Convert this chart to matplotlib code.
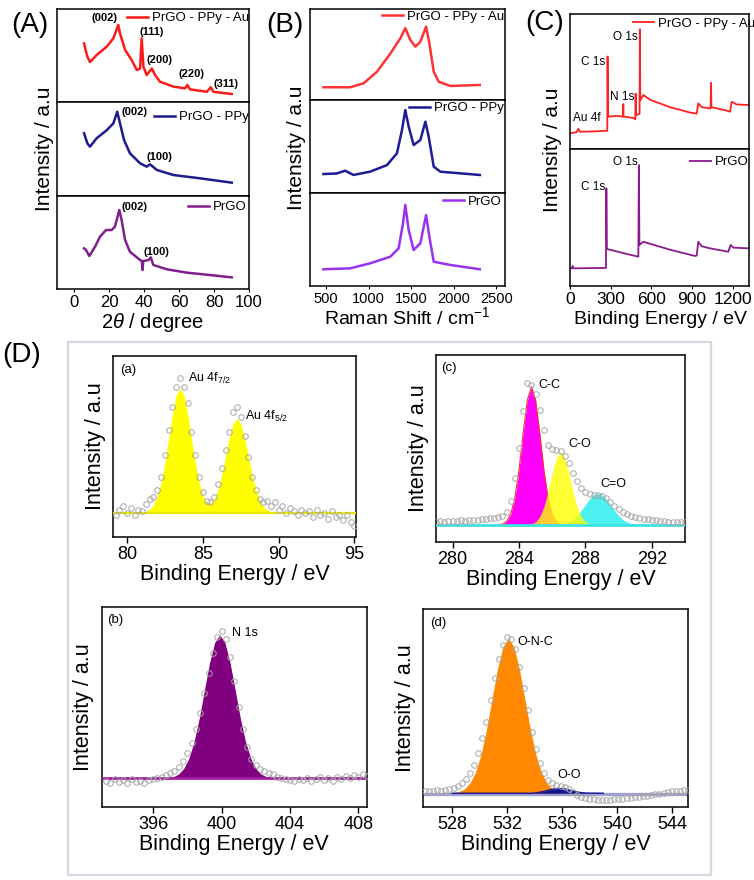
import matplotlib
matplotlib.use("Agg")
import matplotlib.pyplot as plt
from matplotlib.patches import Rectangle

plt.rcParams['font.family'] = ['Liberation Sans', 'DejaVu Sans']
plt.rcParams['mathtext.fontset'] = 'custom'
plt.rcParams['mathtext.rm'] = 'Liberation Sans'
plt.rcParams['mathtext.it'] = 'Liberation Sans:italic'
plt.rcParams['mathtext.bf'] = 'Liberation Sans:bold'
plt.rcParams['axes.linewidth'] = 1.1

W, H = 754, 880

# (A) XRD, intensities normalised to each stacked panel
XRD_AU_X = [5.5, 7.4, 8.9, 12.7, 18.5, 22.3, 25.1, 26.1, 29.0, 32.8, 35.7, 37.6, 38.5, 39.5,
            41.4, 44.3, 46.2, 49.0, 56.7, 63.4, 64.7, 66.2, 75.8, 78.1, 79.6, 90.1]
XRD_AU_Y = [0.63, 0.487, 0.43, 0.505, 0.595, 0.685, 0.828, 0.738, 0.56, 0.45, 0.344, 0.36, 0.685, 0.38,
            0.29, 0.36, 0.29, 0.218, 0.165, 0.147, 0.183, 0.136, 0.11, 0.158, 0.11, 0.086]
XRD_PPY_X = [5.5, 7.4, 8.9, 12.7, 18.5, 22.3, 24.5, 26.1, 28.4, 31.8, 37.6, 41.4, 43.3, 47.2, 56.7, 72.0, 90.1]
XRD_PPY_Y = [0.667, 0.56, 0.525, 0.614, 0.70, 0.773, 0.897, 0.773, 0.596, 0.454, 0.348, 0.312, 0.337,
             0.277, 0.223, 0.188, 0.142]
XRD_GO_X = [5.5, 6.6, 8.5, 11.8, 14.6, 18.1, 21.3, 23.2, 25.7, 27.0, 29.0, 31.8, 37.6, 38.7, 39.0, 39.4,
            42.4, 43.7, 45.2, 52.9, 64.3, 77.7, 90.1]
XRD_GO_Y = [0.437, 0.42, 0.355, 0.455, 0.562, 0.634, 0.634, 0.67, 0.85, 0.742, 0.527, 0.40, 0.312, 0.30,
            0.204, 0.30, 0.312, 0.34, 0.258, 0.212, 0.176, 0.15, 0.125]
XRD_AU_LABELS = ["(002)", "(111)", "(200)", "(220)", "(311)"]
XRD_AU_LABEL_X = [17.5, 44.3, 48.6, 67.2, 86.8]
XRD_AU_LABEL_Y = [0.90, 0.75, 0.45, 0.30, 0.19]
XRD_PPY_LABELS = ["(002)", "(100)"]
XRD_PPY_LABEL_X = [34.3, 48.6]
XRD_PPY_LABEL_Y = [0.897, 0.418]
XRD_GO_LABELS = ["(002)", "(100)"]
XRD_GO_LABEL_X = [34.3, 47.2]
XRD_GO_LABEL_Y = [0.885, 0.40]

# (B) Raman
RAMAN_AU_X = [468, 782, 939, 1096, 1253, 1371, 1429, 1488, 1547, 1606, 1673, 1712, 1763, 1822, 1959, 2304]
RAMAN_AU_Y = [0.14, 0.14, 0.183, 0.31, 0.51, 0.678, 0.79, 0.66, 0.586, 0.64, 0.806, 0.623, 0.31, 0.20,
              0.154, 0.165]
RAMAN_PPY_X = [468, 624, 722, 821, 1017, 1214, 1331, 1390, 1429, 1469, 1527, 1606, 1665, 1704, 1763, 1841, 2304]
RAMAN_PPY_Y = [0.204, 0.21, 0.24, 0.194, 0.23, 0.30, 0.427, 0.677, 0.892, 0.713, 0.516, 0.57, 0.767, 0.605,
               0.283, 0.229, 0.194]
RAMAN_GO_X = [468, 782, 1017, 1253, 1351, 1402, 1429, 1469, 1527, 1606, 1673, 1712, 1763, 1959, 2304]
RAMAN_GO_Y = [0.18, 0.19, 0.244, 0.315, 0.405, 0.674, 0.871, 0.602, 0.387, 0.459, 0.763, 0.53, 0.261,
              0.226, 0.18]

# (C) XPS survey
SURVEY_AU_X = [0, 49, 61, 74, 172, 275, 277, 280, 344, 391, 393, 395, 467, 482, 484, 486, 513, 515, 518,
               541, 590, 737, 885, 934, 946, 971, 1037, 1040, 1043, 1155, 1180, 1192, 1229, 1315]
SURVEY_AU_Y = [0.116, 0.125, 0.15, 0.128, 0.13, 0.135, 0.685, 0.24, 0.245, 0.24, 0.333, 0.24, 0.23, 0.22,
               0.41, 0.25, 0.26, 0.886, 0.36, 0.40, 0.365, 0.31, 0.27, 0.262, 0.338, 0.31, 0.30, 0.49,
               0.31, 0.285, 0.276, 0.35, 0.33, 0.326]
SURVEY_GO_X = [7, 15, 20, 25, 37, 265, 268, 272, 295, 393, 504, 508, 512, 541, 737, 922, 934, 946, 971,
               1032, 1167, 1185, 1204, 1315]
SURVEY_GO_Y = [0.129, 0.129, 0.146, 0.129, 0.129, 0.132, 0.713, 0.27, 0.265, 0.24, 0.214, 0.883, 0.30,
               0.323, 0.265, 0.219, 0.222, 0.323, 0.29, 0.275, 0.25, 0.30, 0.28, 0.275]
SURVEY_AU_LABELS = ["Au 4f", "C 1s", "N 1s", "O 1s"]
SURVEY_AU_LABEL_X = [125, 170, 383, 405]
SURVEY_AU_LABEL_Y = [0.23, 0.644, 0.385, 0.83]
SURVEY_GO_LABELS = ["C 1s", "O 1s"]
SURVEY_GO_LABEL_X = [170, 405]
SURVEY_GO_LABEL_Y = [0.723, 0.905]

# (D-a) Au 4f
AU4F_X = [79.25, 79.5, 79.75, 80.0, 80.25, 80.5, 80.75, 81.0, 81.25, 81.5, 81.75, 82.0, 82.25, 82.5,
          82.75, 83.0, 83.25, 83.5, 83.75, 84.0, 84.25, 84.5, 84.75, 85.0, 85.25, 85.5, 85.75, 86.0,
          86.25, 86.5, 86.75, 87.0, 87.25, 87.5, 87.75, 88.0, 88.25, 88.5, 88.75, 89.0, 89.25, 89.5,
          89.75, 90.0, 90.25, 90.5, 90.75, 91.0, 91.25, 91.5, 91.75, 92.0, 92.25, 92.5, 92.75, 93.0,
          93.25, 93.5, 93.75, 94.0, 94.25, 94.5, 94.75, 95.0]
AU4F_Y = [0.12, 0.15, 0.17, 0.13, 0.16, 0.12, 0.15, 0.14, 0.18, 0.21, 0.22, 0.26, 0.33, 0.45,
          0.59, 0.72, 0.83, 0.88, 0.83, 0.74, 0.58, 0.45, 0.33, 0.25, 0.20, 0.19, 0.22, 0.29,
          0.38, 0.48, 0.58, 0.69, 0.72, 0.66, 0.56, 0.44, 0.33, 0.26, 0.21, 0.19, 0.20, 0.17,
          0.19, 0.15, 0.17, 0.13, 0.16, 0.14, 0.12, 0.15, 0.13, 0.14, 0.11, 0.15, 0.12, 0.13,
          0.10, 0.14, 0.11, 0.12, 0.09, 0.12, 0.08, 0.06]
AU4F_FIT_X = [80.75, 81.0, 81.25, 81.5, 81.75, 82.0, 82.25, 82.5, 82.75, 83.0, 83.25, 83.5, 83.75,
              84.0, 84.25, 84.5, 84.75, 85.0, 85.25, 85.5, 85.75, 86.0, 86.25, 86.5, 86.75, 87.0,
              87.25, 87.5, 87.75, 88.0, 88.25, 88.5, 88.75, 89.0, 89.25, 89.5, 89.75, 90.0]
AU4F_FIT_Y = [0.133, 0.135, 0.140, 0.151, 0.176, 0.222, 0.300, 0.411, 0.546, 0.681, 0.783, 0.821, 0.783,
              0.681, 0.546, 0.412, 0.302, 0.227, 0.190, 0.184, 0.208, 0.262, 0.344, 0.447, 0.549, 0.626,
              0.655, 0.626, 0.549, 0.447, 0.344, 0.262, 0.201, 0.166, 0.147, 0.138, 0.135, 0.133]
AU4F_BASE = 0.133

# (D-b) N 1s
N1S_X = [393.25, 393.5, 393.75, 394.0, 394.25, 394.5, 394.75, 395.0, 395.25, 395.5, 395.75, 396.0,
         396.25, 396.5, 396.75, 397.0, 397.25, 397.5, 397.75, 398.0, 398.25, 398.5, 398.75, 399.0,
         399.25, 399.5, 399.75, 400.0, 400.25, 400.5, 400.75, 401.0, 401.25, 401.5, 401.75, 402.0,
         402.25, 402.5, 402.75, 403.0, 403.25, 403.5, 403.75, 404.0, 404.25, 404.5, 404.75, 405.0,
         405.25, 405.5, 405.75, 406.0, 406.25, 406.5, 406.75, 407.0, 407.25, 407.5, 407.75, 408.0,
         408.25, 408.5]
N1S_Y = [0.13, 0.12, 0.14, 0.125, 0.135, 0.12, 0.14, 0.125, 0.13, 0.12, 0.135, 0.14,
         0.145, 0.15, 0.16, 0.17, 0.18, 0.20, 0.23, 0.27, 0.32, 0.39, 0.47, 0.57,
         0.67, 0.77, 0.85, 0.88, 0.84, 0.75, 0.63, 0.50, 0.39, 0.30, 0.24, 0.21,
         0.19, 0.18, 0.17, 0.165, 0.15, 0.145, 0.14, 0.135, 0.13, 0.14, 0.135, 0.145,
         0.13, 0.14, 0.15, 0.135, 0.145, 0.13, 0.15, 0.14, 0.155, 0.145, 0.16, 0.15,
         0.165, 0.155]
N1S_FIT_X = [396.6, 396.9, 397.2, 397.5, 397.8, 398.1, 398.4, 398.7, 399.0, 399.3, 399.6, 399.9,
             400.2, 400.5, 400.8, 401.1, 401.4, 401.7, 402.0, 402.3, 402.6, 402.9, 403.2]
N1S_FIT_Y = [0.142, 0.145, 0.151, 0.164, 0.192, 0.243, 0.326, 0.442, 0.582, 0.719, 0.821, 0.859,
             0.821, 0.719, 0.582, 0.442, 0.326, 0.243, 0.192, 0.164, 0.151, 0.145, 0.142]
N1S_BASE = 0.142

# (D-c) C 1s
C1S_X = [279.0, 279.25, 279.5, 279.75, 280.0, 280.25, 280.5, 280.75, 281.0, 281.25, 281.5, 281.75,
         282.0, 282.25, 282.5, 282.75, 283.0, 283.25, 283.5, 283.75, 284.0, 284.25, 284.5, 284.75,
         285.0, 285.25, 285.5, 285.75, 286.0, 286.25, 286.5, 286.75, 287.0, 287.25, 287.5, 287.75,
         288.0, 288.25, 288.5, 288.75, 289.0, 289.25, 289.5, 289.75, 290.0, 290.25, 290.5, 290.75,
         291.0, 291.25, 291.5, 291.75, 292.0, 292.25, 292.5, 292.75, 293.0, 293.25, 293.5, 293.75,
         294.0]
C1S_Y = [0.105, 0.11, 0.108, 0.112, 0.11, 0.112, 0.115, 0.113, 0.117, 0.116, 0.118, 0.12,
         0.122, 0.125, 0.128, 0.13, 0.14, 0.16, 0.22, 0.34, 0.50, 0.70, 0.85, 0.84,
         0.79, 0.705, 0.60, 0.52, 0.495, 0.49, 0.488, 0.46, 0.42, 0.37, 0.325, 0.285,
         0.265, 0.255, 0.252, 0.25, 0.246, 0.235, 0.212, 0.19, 0.175, 0.16, 0.148, 0.14,
         0.133, 0.128, 0.124, 0.12, 0.118, 0.115, 0.113, 0.11, 0.108, 0.106, 0.105, 0.104,
         0.103]
CC_X = [282.75, 283.0, 283.25, 283.5, 283.75, 284.0, 284.25, 284.5, 284.75, 285.0, 285.25, 285.5,
        285.75, 286.0, 286.25, 286.5, 286.75]
CC_Y = [0.090, 0.094, 0.108, 0.146, 0.233, 0.384, 0.581, 0.758, 0.830, 0.758, 0.581, 0.384,
        0.233, 0.146, 0.108, 0.094, 0.090]
CO_X = [284.5, 284.75, 285.0, 285.25, 285.5, 285.75, 286.0, 286.25, 286.5, 286.75, 287.0, 287.25,
        287.5, 287.75, 288.0, 288.25, 288.5]
CO_Y = [0.090, 0.095, 0.106, 0.134, 0.187, 0.269, 0.367, 0.449, 0.482, 0.449, 0.367, 0.269,
        0.187, 0.134, 0.106, 0.095, 0.090]
CEO_X = [286.25, 286.5, 286.75, 287.0, 287.25, 287.5, 287.75, 288.0, 288.25, 288.5, 288.75, 289.0,
         289.25, 289.5, 289.75, 290.0, 290.25, 290.5, 290.75, 291.0, 291.25]
CEO_Y = [0.090, 0.093, 0.097, 0.105, 0.119, 0.140, 0.168, 0.199, 0.229, 0.251, 0.259, 0.251,
         0.229, 0.199, 0.168, 0.140, 0.119, 0.105, 0.097, 0.093, 0.090]
C1S_BASE = 0.089

# (D-d) O 1s
O1S_X = [526.0, 526.3, 526.6, 526.9, 527.2, 527.5, 527.8, 528.1, 528.4, 528.7, 529.0, 529.3, 529.6,
         529.9, 530.2, 530.5, 530.8, 531.1, 531.4, 531.7, 532.0, 532.3, 532.6, 532.9, 533.2, 533.5,
         533.8, 534.1, 534.4, 534.7, 535.0, 535.3, 535.6, 535.9, 536.2, 536.5, 536.8, 537.1, 537.4,
         537.7, 538.0, 538.3, 538.6, 538.9, 539.2, 539.5, 539.8, 540.1, 540.4, 540.7, 541.0, 541.3,
         541.6, 541.9, 542.2, 542.5, 542.8, 543.1, 543.4, 543.7, 544.0, 544.3, 544.6, 544.9, 545.2]
O1S_Y = [0.08, 0.082, 0.08, 0.083, 0.082, 0.085, 0.088, 0.095, 0.105, 0.12, 0.14, 0.17, 0.21,
         0.27, 0.35, 0.43, 0.54, 0.65, 0.75, 0.82, 0.86, 0.85, 0.80, 0.71, 0.60, 0.49,
         0.38, 0.29, 0.22, 0.17, 0.135, 0.12, 0.11, 0.105, 0.10, 0.09, 0.075, 0.06, 0.05,
         0.045, 0.04, 0.038, 0.036, 0.035, 0.036, 0.035, 0.037, 0.038, 0.04, 0.042, 0.045, 0.047,
         0.05, 0.052, 0.055, 0.058, 0.062, 0.066, 0.07, 0.075, 0.078, 0.08, 0.082, 0.083, 0.085]
ONC_X = [527.7, 528.1, 528.5, 528.9, 529.3, 529.7, 530.1, 530.5, 530.9, 531.3, 531.7, 532.1, 532.5,
         532.9, 533.3, 533.7, 534.1, 534.5, 534.9, 535.3, 535.7, 536.1, 536.5]
ONC_Y = [0.068, 0.071, 0.077, 0.090, 0.120, 0.174, 0.263, 0.391, 0.544, 0.697, 0.811, 0.853, 0.811,
         0.697, 0.544, 0.391, 0.263, 0.174, 0.120, 0.090, 0.077, 0.071, 0.068]
OO_X = [528.0, 533.8, 534.2, 534.6, 535.0, 535.4, 535.8, 536.2, 536.6, 537.0, 537.4, 537.8, 539.0]
OO_Y = [0.068, 0.068, 0.071, 0.076, 0.083, 0.090, 0.093, 0.090, 0.083, 0.076, 0.071, 0.069, 0.068]
O1S_BASE = 0.068


def box(l, t, r, b):
    return [l / W, 1 - b / H, (r - l) / W, (b - t) / H]


def fx(x):
    return x / W


def fy(y):
    return 1 - y / H


fig = plt.figure(figsize=(W / 100, H / 100), dpi=100)


def stack(l, r, edges, xlim, xticks, fs):
    axs = []
    for i in range(len(edges) - 1):
        ax = fig.add_axes(box(l, edges[i], r, edges[i + 1]))
        ax.set_xlim(xlim)
        ax.set_ylim(0, 1)
        ax.set_yticks([])
        ax.set_xticks(xticks)
        ax.tick_params(axis='x', direction='out', length=2, width=0.8, labelsize=fs, pad=2)
        if i < len(edges) - 2:
            ax.tick_params(axis='x', bottom=False, labelbottom=False)
        axs.append(ax)
    return axs


def tag(ax, line, label, x, y):
    ax.legend([line], [label], loc='center left', bbox_to_anchor=(x, y), frameon=False,
              fontsize=9.5, handlelength=1.6, handletextpad=0.3, borderpad=0, borderaxespad=0)


# ---------------- (A) ----------------
axA = stack(57, 249, [9, 102, 196, 289], (-10, 100), [0, 20, 40, 60, 80, 100], 12)
series = [(XRD_AU_X, XRD_AU_Y, '#ff1a1a', 'PrGO - PPy - Au', 0.365, 0.903,
           XRD_AU_LABELS, XRD_AU_LABEL_X, XRD_AU_LABEL_Y),
          (XRD_PPY_X, XRD_PPY_Y, '#1c1c8c', 'PrGO - PPy', 0.505, 0.84,
           XRD_PPY_LABELS, XRD_PPY_LABEL_X, XRD_PPY_LABEL_Y),
          (XRD_GO_X, XRD_GO_Y, '#801f8c', 'PrGO', 0.682, 0.88,
           XRD_GO_LABELS, XRD_GO_LABEL_X, XRD_GO_LABEL_Y)]
for ax, (xs, ys, c, name, lx, ly, labs, labx, laby) in zip(axA, series):
    ln, = ax.plot(xs, ys, color=c, lw=1.8)
    tag(ax, ln, name, lx, ly)
    for t, tx, ty in zip(labs, labx, laby):
        ax.text(tx, ty, t, fontsize=8, fontweight='bold', ha='center', va='center')
fig.text(fx(152), fy(322), r"2$\theta$ / degree", fontsize=14.5, ha='center', va='center')
fig.text(fx(44), fy(149), "Intensity / a.u", fontsize=15, rotation=90, ha='center', va='center')
fig.text(fx(30), fy(25), "(A)", fontsize=20, ha='center', va='center')

# ---------------- (B) ----------------
axB = stack(310, 505, [9, 100, 193, 286], (310, 2600), [500, 1000, 1500, 2000, 2500], 10.5)
series = [(RAMAN_AU_X, RAMAN_AU_Y, '#ff3333', 'PrGO - PPy - Au', 0.368, 0.915),
          (RAMAN_PPY_X, RAMAN_PPY_Y, '#1c1c96', 'PrGO - PPy', 0.508, 0.91),
          (RAMAN_GO_X, RAMAN_GO_Y, '#9a30f0', 'PrGO', 0.682, 0.906)]
for ax, (xs, ys, c, name, lx, ly) in zip(axB, series):
    ln, = ax.plot(xs, ys, color=c, lw=1.8)
    tag(ax, ln, name, lx, ly)
fig.text(fx(407), fy(317), "Raman Shift / cm$^{-1}$", fontsize=14, ha='center', va='center')
fig.text(fx(297), fy(148), "Intensity / a.u", fontsize=15, rotation=90, ha='center', va='center')
fig.text(fx(285), fy(25), "(B)", fontsize=20, ha='center', va='center')

# ---------------- (C) ----------------
axC = stack(570, 749, [14, 149, 286], (0, 1320), [0, 300, 600, 900, 1200], 12.5)
series = [(SURVEY_AU_X, SURVEY_AU_Y, '#ff2020', 'PrGO - PPy - Au', 0.35, 0.926,
           SURVEY_AU_LABELS, SURVEY_AU_LABEL_X, SURVEY_AU_LABEL_Y),
          (SURVEY_GO_X, SURVEY_GO_Y, '#8b1a8b', 'PrGO', 0.67, 0.905,
           SURVEY_GO_LABELS, SURVEY_GO_LABEL_X, SURVEY_GO_LABEL_Y)]
for ax, (xs, ys, c, name, lx, ly, labs, labx, laby) in zip(axC, series):
    ln, = ax.plot(xs, ys, color=c, lw=1.3)
    tag(ax, ln, name, lx, ly)
    for t, tx, ty in zip(labs, labx, laby):
        ax.text(tx, ty, t, fontsize=8.5, ha='center', va='center')
fig.text(fx(660), fy(320), "Binding Energy / eV", fontsize=14, ha='center', va='center')
fig.text(fx(553), fy(150), "Intensity / a.u", fontsize=15, rotation=90, ha='center', va='center')
fig.text(fx(545), fy(23), "(C)", fontsize=20, ha='center', va='center')

# ---------------- (D) ----------------
fig.add_artist(Rectangle((fx(68), fy(875)), (711 - 68) / W, (875 - 341.7) / H,
                         transform=fig.transFigure, fill=False, edgecolor='#d2d9e2', lw=1.6))
fig.text(fx(22), fy(355), "(D)", fontsize=20, ha='center', va='center')


def xps(rect, xlim, xticks, cx, cy, letter, lx, ly):
    ax = fig.add_axes(box(*rect))
    ax.set_xlim(xlim)
    ax.set_ylim(0, 1)
    ax.set_yticks([])
    ax.set_xticks(xticks)
    ax.tick_params(axis='x', direction='out', length=4, width=1, labelsize=13, pad=3)
    ax.plot(cx, cy, 'o', mfc='none', mec='#a6a6a6', ms=4.0, mew=0.7, zorder=4)
    ax.text(lx, ly, letter, transform=ax.transAxes, fontsize=9.5, ha='left', va='center')
    l, t, r, b = rect
    fig.text(fx((l + r) / 2), fy(b + 38), "Binding Energy / eV", fontsize=15.5, ha='center', va='center')
    fig.text(fx(l - 18), fy((t + b) / 2), "Intensity / a.u", fontsize=15.5, rotation=90,
             ha='center', va='center')
    return ax


# (a) Au 4f
ax = xps((113.3, 356, 356, 536.7), (79.1, 95.1), [80, 85, 90, 95], AU4F_X, AU4F_Y, "(a)", 0.028, 0.922)
ax.fill_between(AU4F_FIT_X, AU4F_BASE, AU4F_FIT_Y, color='#ffff00', lw=0, zorder=2)
ax.axhline(AU4F_BASE, color='#e6e600', lw=1.6, zorder=3)
ax.text(84.03, 0.877, r"Au 4f$_{7/2}$", fontsize=9, ha='left', va='center')
ax.text(87.77, 0.664, r"Au 4f$_{5/2}$", fontsize=9, ha='left', va='center')

# (c) C 1s
ax = xps((436, 355, 685, 541.7), (279, 294), [280, 284, 288, 292], C1S_X, C1S_Y, "(c)", 0.019, 0.93)
ax.fill_between(CC_X, C1S_BASE, CC_Y, color='#ff00ff', lw=0, zorder=2)
ax.plot(CC_X, CC_Y, color='#ff3030', lw=0.8, zorder=2)
ax.fill_between(CEO_X, C1S_BASE, CEO_Y, color='#4cf0f0', lw=0, zorder=2)
ax.fill_between(CO_X, C1S_BASE, CO_Y, color='#ffff00', alpha=0.8, lw=0, zorder=2)
ax.axhline(C1S_BASE, color='#40e0e0', lw=2, zorder=3)
ax.text(285.19, 0.839, "C-C", fontsize=9, ha='left', va='center')
ax.text(287.0, 0.523, "C-O", fontsize=9, ha='left', va='center')
ax.text(288.92, 0.309, "C=O", fontsize=9, ha='left', va='center')

# (b) N 1s
ax = xps((101.7, 606.7, 367, 806.7), (393, 408.5), [396, 400, 404, 408], N1S_X, N1S_Y, "(b)", 0.021, 0.933)
ax.fill_between(N1S_FIT_X, N1S_BASE, N1S_FIT_Y, color='#800080', lw=0, zorder=2)
ax.axhline(N1S_BASE, color='#a020a0', lw=2, zorder=3)
ax.text(400.63, 0.87, "N 1s", fontsize=9, ha='left', va='center')

# (d) O 1s
ax = xps((423.3, 609.3, 688.3, 806.7), (525.9, 545.2), [528, 532, 536, 540, 544], O1S_X, O1S_Y,
         "(d)", 0.025, 0.93)
ax.axhline(O1S_BASE - 0.004, color='#8888c4', lw=2.4, alpha=0.8, zorder=1)
ax.fill_between(ONC_X, O1S_BASE, ONC_Y, color='#ff8800', lw=0, zorder=2)
ax.fill_between(OO_X, O1S_BASE, OO_Y, color='#141496', lw=0, zorder=2)
ax.plot(OO_X, OO_Y, color='#141496', lw=1.0, zorder=2)
ax.text(532.78, 0.836, "O-N-C", fontsize=9, ha='left', va='center')
ax.text(536.5, 0.16, "O-O", fontsize=9, ha='center', va='center')

fig.savefig("out.png", dpi=100)
